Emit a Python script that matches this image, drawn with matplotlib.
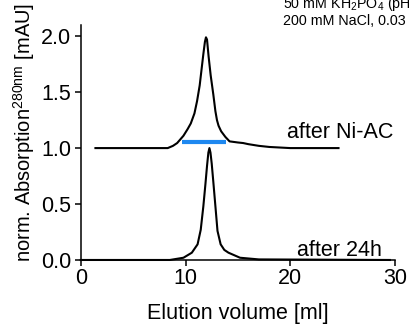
import matplotlib
matplotlib.use("Agg")
import matplotlib.pyplot as plt

plt.rcParams['font.family'] = ['Liberation Sans', 'DejaVu Sans']
plt.rcParams['mathtext.fontset'] = 'custom'
plt.rcParams['mathtext.rm'] = 'Liberation Sans'
plt.rcParams['mathtext.it'] = 'Liberation Sans:italic'

# SEC trace after Ni-AC (offset by +1.0)
nac_x = [1.4, 8.3, 8.8, 9.2, 9.8, 10.2, 10.5, 10.85, 11.1, 11.35, 11.55, 11.7,
         11.85, 11.95, 12.05, 12.2, 12.4, 12.65, 12.85, 13.0, 13.15, 13.4, 13.8,
         14.2, 14.6, 15.0, 15.5, 16.0, 17.0, 18.0, 20.0, 24.6]
nac_y = [1.0, 1.0, 1.02, 1.045, 1.11, 1.17, 1.22, 1.31, 1.42, 1.56, 1.72, 1.84,
         1.95, 1.99, 1.97, 1.82, 1.65, 1.48, 1.33, 1.25, 1.2, 1.15, 1.1,
         1.06, 1.055, 1.05, 1.045, 1.035, 1.02, 1.01, 1.0, 1.0]

# SEC trace after 24h
h24_x = [0, 8.5, 9.8, 10.6, 11.15, 11.45, 11.7, 11.9, 12.05, 12.18, 12.28, 12.38,
         12.5, 12.65, 12.86, 13.05, 13.35, 13.7, 14.1, 15.2, 17.0, 29.5]
h24_y = [0, 0, 0.02, 0.065, 0.14, 0.27, 0.48, 0.68, 0.84, 0.96, 1.0, 0.96,
         0.86, 0.7, 0.47, 0.26, 0.14, 0.09, 0.065, 0.02, 0.005, 0.0]

# pooled fractions
pool_x = [9.68, 13.84]
pool_y = [1.057, 1.057]

xticks = [0, 10, 20, 30]
yticks = [0.0, 0.5, 1.0, 1.5, 2.0]

fig = plt.figure(figsize=(4.1, 3.29), dpi=100)
ax = fig.add_axes([0.197, 0.2098, 0.7666, 0.7142])

ax.plot(nac_x, nac_y, color='black', lw=1.5)
ax.plot(h24_x, h24_y, color='black', lw=1.5, clip_on=False)
ax.plot(pool_x, pool_y, color='#1e88f0', lw=3, solid_capstyle='butt')

ax.text(19.7, 1.09, 'after Ni-AC', fontsize=15.5, ha='left', va='baseline')
ax.text(20.65, 0.036, 'after 24h', fontsize=15.5, ha='left', va='baseline')

ax.set_xlim(0, 30)
ax.set_ylim(0, 2.1)
ax.set_xticks(xticks)
ax.set_yticks(yticks)
ax.set_yticklabels(['%.1f' % v for v in yticks])
for s in ['top', 'right']:
    ax.spines[s].set_visible(False)
for s in ['left', 'bottom']:
    ax.spines[s].set_linewidth(1.1)
ax.tick_params(direction='out', length=4, width=1.1, labelsize=15.5)
ax.tick_params(axis='y', pad=3)
ax.tick_params(axis='x', pad=2)

ax.set_xlabel('Elution volume [ml]', fontsize=15.5, labelpad=10)
fig.text(0.058, 0.597, r'norm. Absorption$^{\mathrm{280nm}}$ [mAU]', fontsize=14.5,
         rotation=90, ha='center', va='center')

fig.text(0.69, 1 - 8.3 / 329, r'50 mM KH$_2$PO$_4$ (pH', fontsize=10.3, ha='left', va='baseline')
fig.text(0.69, 1 - 25 / 329, '200 mM NaCl, 0.03', fontsize=10.3, ha='left', va='baseline')

fig.savefig('out.png', dpi=100)
